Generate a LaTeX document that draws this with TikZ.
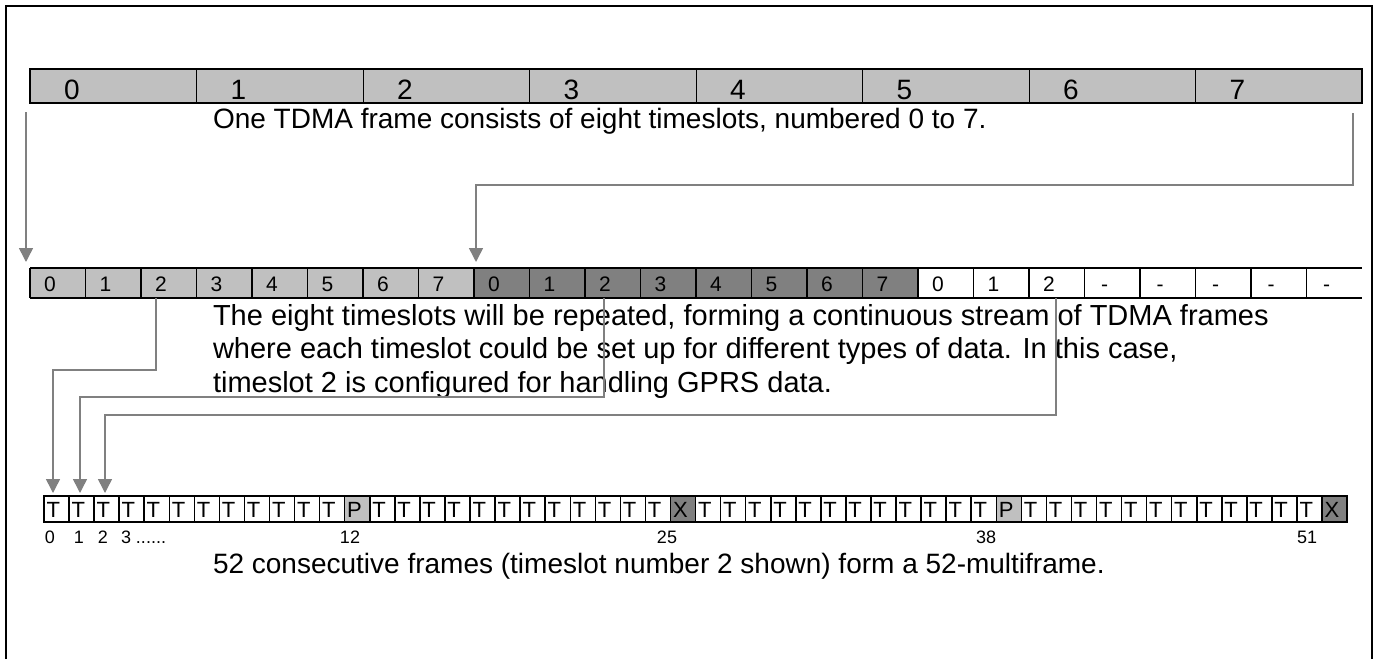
\documentclass[tikz,border=0pt]{standalone}
\usepackage{fontspec}
\setmainfont{Liberation Sans}
\usetikzlibrary{arrows.meta}
\definecolor{slotLight}{RGB}{192,192,192}
\definecolor{slotDark}{RGB}{128,128,128}
\definecolor{feedGray}{RGB}{128,128,128}

\begin{document}
\begin{tikzpicture}[%
    x=1pt, y=-1pt,
    every node/.style={inner sep=0pt, outer sep=0pt},
    bigtext/.style={font=\fontsize{28}{28}\selectfont, anchor=base west},
    paratext/.style={font=\fontsize{29}{29}\selectfont, anchor=base west},
    topslot/.style={fill=slotLight, minimum width=166.5pt, minimum height=34pt, anchor=north west},
    topnum/.style={font=\fontsize{28}{28}\selectfont, anchor=base},
    midslot/.style={minimum width=55.5pt, minimum height=30pt, anchor=north west},
    midnum/.style={font=\fontsize{21}{21}\selectfont, anchor=base},
    cellbox/.style={minimum width=25.06pt, minimum height=26pt, anchor=north west},
    cellchar/.style={font=\fontsize{22}{22}\selectfont, anchor=base west},
    cellnum/.style={font=\fontsize{18}{18}\selectfont, anchor=base},
    feed/.style={draw=feedGray, line width=1.5pt, -{Triangle[width=14pt,length=14pt]}},
]
\useasboundingbox (0,0) rectangle (1380,659);

% outer frame, open at the bottom
\draw[line width=2pt] (6,659) -- (6,6) -- (1372,6) -- (1372,659);

% one TDMA frame
\foreach \i in {0,...,7}{
    \node[topslot] (t\i) at ({30+166.5*\i},69) {};
    \node[topnum] (tn\i) at ({72+166.5*\i},99) {\i};
}
\draw[line width=2pt] (t0.north west) rectangle (t7.south east);
\foreach \i in {1,...,7}{
    \draw[line width=1pt] (t\i.north west) -- (t\i.south west);
}
\node[bigtext] (toptext) at (213,128)
    {One TDMA frame consists of eight timeslots, numbered 0 to 7.};

% stream of TDMA frames
\foreach \i in {0,...,7}{
    \node[midslot, fill=slotLight] (m\i) at ({30+55.5*\i},268) {};
    \node[midnum] at ({50+55.5*\i},291) {\i};
}
\foreach \i [evaluate=\i as \j using int(\i+8)] in {0,...,7}{
    \node[midslot, fill=slotDark] (m\j) at ({30+55.5*\j},268) {};
    \node[midnum] at ({50+55.5*\j},291) {\i};
}
\foreach \lab [count=\j from 16] in {0,1,2,-,-,-,-,-}{
    \node[midslot] (m\j) at ({30+55.5*\j},268) {};
    \node[midnum] at ({50+55.5*\j},291) {\lab};
}
\draw[line width=1.5pt] (m0.north west) -- (m23.north east);
\draw[line width=1.5pt] (m0.south west) -- (m23.south east);
\foreach \j in {0,...,23}{
    \draw[line width=1.5pt] (m\j.north west) -- (m\j.south west);
}
\node[paratext] (midline1) at (213,325)
    {The eight timeslots will be repeated, forming a continuous stream of TDMA frames};
\node[paratext] (midline2) at (213,358)
    {where each timeslot could be set up for different types of data. In this case,};
\node[paratext] (midline3) at (213,392)
    {timeslot 2 is configured for handling GPRS data.};

% 52-multiframe
\foreach \i in {0,...,51}{
    \def\lab{T}\def\col{white}
    \ifnum\i=12 \def\lab{P}\def\col{slotLight}\fi
    \ifnum\i=38 \def\lab{P}\def\col{slotLight}\fi
    \ifnum\i=25 \def\lab{X}\def\col{slotDark}\fi
    \ifnum\i=51 \def\lab{X}\def\col{slotDark}\fi
    \node[cellbox, fill=\col] (b\i) at ({44+25.06*\i},496) {};
    \node[cellchar] at ({46.5+25.06*\i},517) {\lab};
}
\draw[line width=1.5pt] (b0.north west) rectangle (b51.south east);
\foreach \i in {1,...,51}{
    \draw[line width=1.5pt] (b\i.north west) -- (b\i.south west);
}
\node[cellnum] (lbl0) at (50,543) {0};
\node[cellnum] (lbl1) at (79,543) {1};
\node[cellnum] (lbl2) at (103,543) {2};
\node[cellnum, anchor=base west] (lbl3) at (121,543) {3 ......};
\node[cellnum] (lbl12) at (350,543) {12};
\node[cellnum] (lbl25) at (667,543) {25};
\node[cellnum] (lbl38) at (986,543) {38};
\node[cellnum] (lbl51) at (1307,543) {51};
\node[bigtext] (bottext) at (213,573)
    {52 consecutive frames (timeslot number 2 shown) form a 52-multiframe.};

% connectors
\coordinate (tap0) at (26,112);
\coordinate (land0) at (26,262);
\coordinate (tap7) at (1353,113);
\coordinate (land8) at (476,262);
\draw[feed] (tap0) -- (land0);
\draw[feed] (tap7) -- ++(0,72) -| (land8);

\coordinate (tapA) at (156,298);
\coordinate (tapB) at (604,298);
\coordinate (tapC) at (1056,298);
\coordinate (landA) at (53,493);
\coordinate (landB) at (80,493);
\coordinate (landC) at (105,493);
\draw[feed] (tapA) -- ++(0,72) -| (landA);
\draw[feed] (tapB) -- ++(0,99) -| (landB);
\draw[feed] (tapC) -- ++(0,117) -| (landC);

\end{tikzpicture}
\end{document}
